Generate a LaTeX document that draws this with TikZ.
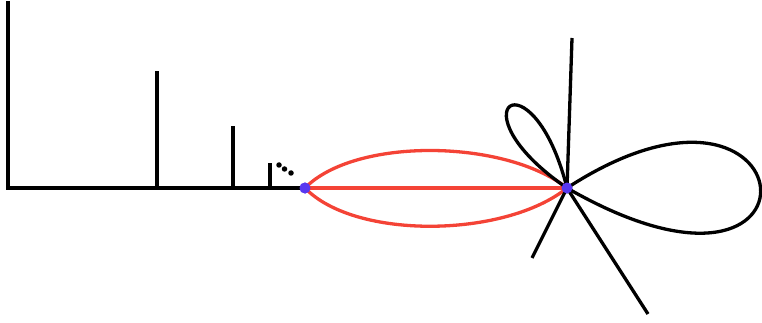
\documentclass[tikz,border=0pt]{standalone}
\begin{document}
\begin{tikzpicture}[x=1pt,y=-1pt,
  blk/.style={line width=3.3pt,black},
  redline/.style={line width=3.3pt,color=myred},
  vert/.style={circle,fill=myblue,inner sep=0pt,minimum size=11pt},
  dotn/.style={circle,fill=black,inner sep=0pt,minimum size=5.5pt}]
\definecolor{myred}{RGB}{244,67,54}
\definecolor{myblue}{RGB}{88,56,240}
\useasboundingbox (0,0) rectangle (762,323);
% comb
\coordinate (o) at (8,188);
\coordinate (t0) at (8,1);
\coordinate (b1) at (157,188); \coordinate (t1) at (157,71);
\coordinate (b2) at (233,188); \coordinate (t2) at (233,126);
\coordinate (b3) at (270,188); \coordinate (t3) at (270,163);
\node[vert] (u) at (305,188) {};
\node[vert] (v) at (567,188) {};
\draw[blk,line join=miter] (t0) -- (o) -- (u.center);
\draw[blk] (b1) -- (t1);
\draw[blk] (b2) -- (t2);
\draw[blk] (b3) -- (t3);
\node[dotn] (d1) at (279,165) {};
\node[dotn] (d2) at (284.5,169) {};
\node[dotn] (d3) at (291,173) {};
% red edges
\draw[redline] (u.center) -- (v.center);
\draw[redline] (u.center) .. controls (355,137) and (505,139) .. (v.center);
\draw[redline] (u.center) .. controls (355,240) and (505,238) .. (v.center);
% black edges at v
\coordinate (e1) at (572,38);
\coordinate (e2) at (532,258);
\coordinate (e3) at (648,314);
\draw[blk] (v.center) -- (e1);
\draw[blk] (v.center) -- (e2);
\draw[blk] (v.center) -- (e3);
\draw[blk] (v.center) .. controls (810,30) and (840,345) .. (v.center);
\draw[blk] (v.center) .. controls (532,50) and (450,108) .. (v.center);
\node[vert] at (u) {};
\node[vert] at (v) {};
\end{tikzpicture}
\end{document}
